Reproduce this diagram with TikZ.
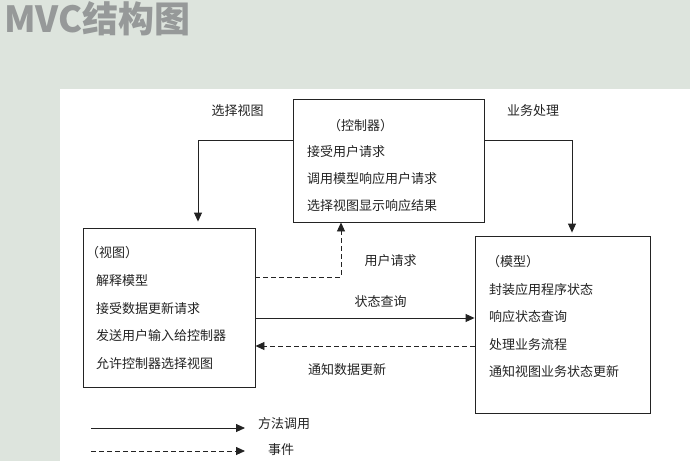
\documentclass[tikz,border=0pt]{standalone}
\usepackage{fontspec}
\setmainfont{Noto Sans CJK SC}
\usetikzlibrary{arrows.meta}

\definecolor{BgGreen}{RGB}{221,228,221}
\definecolor{Silver}{RGB}{150,153,153}
\definecolor{Ink}{RGB}{35,35,35}

\tikzset{
  box/.style={draw=Ink, line width=0.9pt, inner sep=0pt},
  item/.style={anchor=west, inner sep=0pt, font=\fontsize{13}{15}\selectfont, text=Ink},
  lbl/.style={inner sep=0pt, font=\fontsize{13}{15}\selectfont, text=Ink},
  call/.style={draw=Ink, line width=0.9pt, -{Triangle[length=9pt,width=8pt]}},
  event/.style={call, dash pattern=on 5pt off 3pt},
}

\begin{document}
\begin{tikzpicture}[x=1pt, y=-1pt]
 \useasboundingbox (0,0) rectangle (690,461);

 %%%%%%%%%% Fond et titre %%%%%%%%%%
 \fill[BgGreen] (0,0) rectangle (690,461);
 \fill[white] (60,89) rectangle (690,461);
 \node[anchor=west, inner sep=0pt, text=Silver, font=\fontsize{36}{38}\selectfont\bfseries] (title) at (4,19) {MVC结构图};

 %%%%%%%%%% Les trois boites %%%%%%%%%%
 \node[box, minimum width=191pt, minimum height=123pt] (ctrl) at (388.5,160.5) {};
 \node[box, minimum width=172pt, minimum height=159pt] (view) at (169,307.5) {};
 \node[box, minimum width=175pt, minimum height=177pt] (model) at (562.5,324.5) {};

 %%%%%%%%%% Textes des boites %%%%%%%%%%
 \node[item] (ctrl-0) at (328,126) {（控制器）};
 \foreach \t [count=\i] in {接受用户请求,调用模型响应用户请求,选择视图显示响应结果}
 {
   \node[item] (ctrl-\i) at (307,125+27*\i) {\t};
 }
 \node[item] (view-0) at (86,253) {（视图）};
 \foreach \t [count=\i] in {解释模型,接受数据更新请求,发送用户输入给控制器,允许控制器选择视图}
 {
   \node[item] (view-\i) at (96,253.5+27.4*\i) {\t};
 }
 \node[item] (model-0) at (487,262) {（模型）};
 \foreach \t [count=\i] in {封装应用程序状态,响应状态查询,处理业务流程,通知视图业务状态更新}
 {
   \node[item] (model-\i) at (489,261.5+27.6*\i) {\t};
 }

 %%%%%%%%%% Points pour les liens %%%%%%%%%%
 \coordinate (selv) at (198,140);
 \coordinate (proc) at (572,140);
 \coordinate (req) at (341,277);
 \coordinate (qry) at (0,318);
 \coordinate (ntf) at (0,346);

 %%%%%%%%%% Liens %%%%%%%%%%
 \draw[call, shorten >=6pt] (ctrl.west |- selv) -| (view.north -| selv);
 \draw[call, shorten >=3pt] (ctrl.east |- proc) -| (model.north -| proc);
 \draw[event] (view.east |- req) -| (ctrl.south -| req);
 \draw[call] (view.east |- qry) -- (model.west |- qry);
 \draw[event] (model.west |- ntf) -- (view.east |- ntf);

 \node[lbl] (l-selv) at (237.5,111) {选择视图};
 \node[lbl] (l-proc) at (533,111) {业务处理};
 \node[lbl] (l-req) at (390.5,261) {用户请求};
 \node[lbl] (l-qry) at (380.5,302) {状态查询};
 \node[lbl] (l-ntf) at (347,370) {通知数据更新};

 %%%%%%%%%% Legende %%%%%%%%%%
 \coordinate (k1a) at (91,428);
 \coordinate (k1b) at (245,428);
 \coordinate (k2a) at (91,451);
 \coordinate (k2b) at (245,451);
 \draw[call] (k1a) -- (k1b);
 \draw[event] (k2a) -- (k2b);
 \node[item] (k1) at (258,424) {方法调用};
 \node[item] (k2) at (268,450) {事件};

\end{tikzpicture}
\end{document}
